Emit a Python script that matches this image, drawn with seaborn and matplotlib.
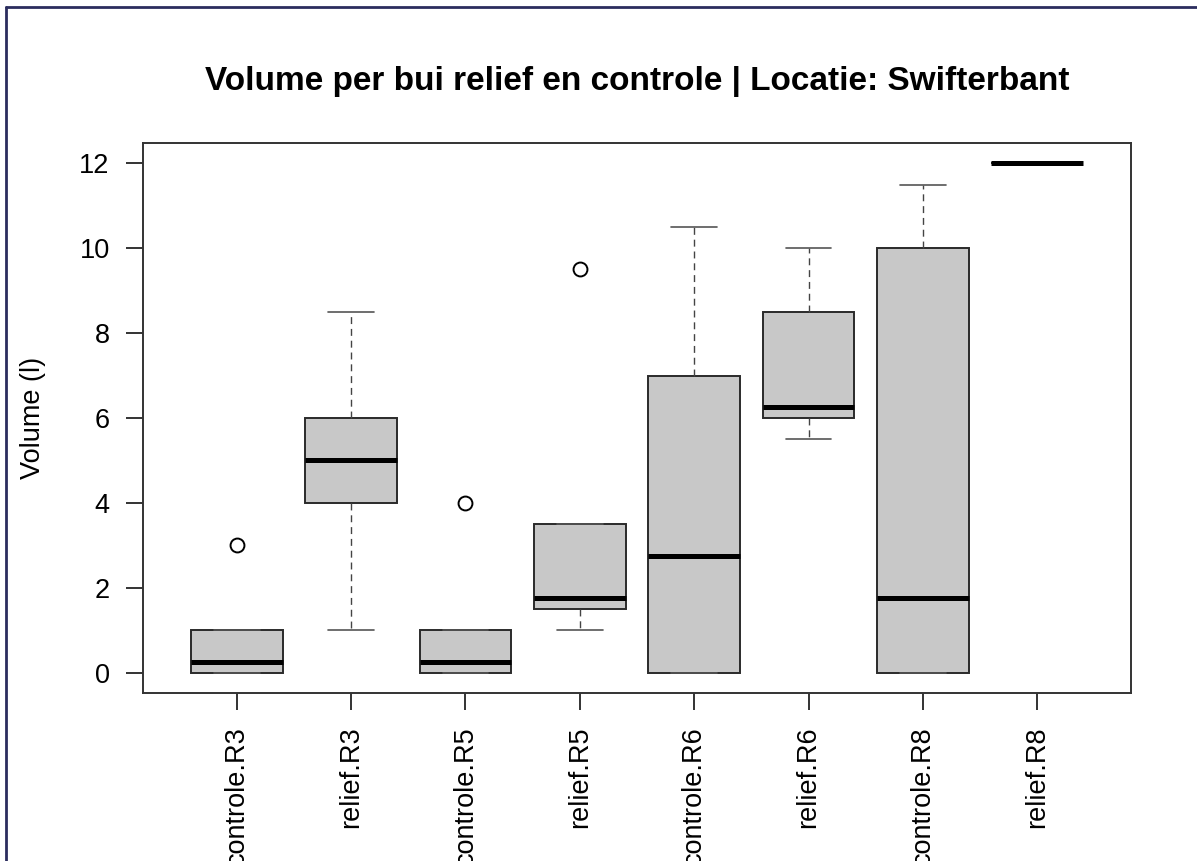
import matplotlib
matplotlib.use("Agg")
import matplotlib.pyplot as plt
from matplotlib.lines import Line2D
import seaborn as sns
import pandas as pd

# %% Data: volume per rain event (l)
groups = ['controle.R3', 'relief.R3', 'controle.R5', 'relief.R5',
          'controle.R6', 'relief.R6', 'controle.R8', 'relief.R8']

controle_r3 = [0, 0, 0, 0, 0.5, 1, 1, 3]
relief_r3 = [1, 4, 4, 5, 6, 6, 8.5]
controle_r5 = [0, 0, 0, 0, 0.5, 1, 1, 4]
relief_r5 = [1, 1.5, 1.5, 1.5, 2, 3.5, 3.5, 9.5]
controle_r6 = [0, 0, 0, 0, 5.5, 7, 7, 10.5]
relief_r6 = [5.5, 6, 6, 6, 6.5, 8.5, 8.5, 10]
controle_r8 = [0, 0, 0, 0, 3.5, 10, 10, 11.5]
relief_r8 = [12]

values = [controle_r3, relief_r3, controle_r5, relief_r5,
          controle_r6, relief_r6, controle_r8, relief_r8]

df = pd.DataFrame({'group': [g for g, v in zip(groups, values) for _ in v],
                   'volume': [x for v in values for x in v]})

# %% Plot
sns.set_theme(style='white')
plt.rcParams['font.family'] = ['Liberation Sans', 'DejaVu Sans']
plt.rcParams['text.color'] = 'black'
plt.rcParams['axes.labelcolor'] = 'black'

fig = plt.figure(figsize=(11.97, 8.61), dpi=100)
ax = fig.add_axes([143/1197, 1-693/861, (1131-143)/1197, (693-143)/861])

sns.boxplot(data=df, x='group', y='volume', order=groups, ax=ax,
            color='#c8c8c8', saturation=1, width=0.8,
            linecolor='#2a2a2a', linewidth=1.4,
            medianprops=dict(color='black', linewidth=3.6),
            whiskerprops=dict(color='#444444', linewidth=1.0, linestyle=(0, (5, 3.5))),
            capprops=dict(color='#555555', linewidth=1.2),
            flierprops=dict(marker='o', markerfacecolor='none', markeredgecolor='black',
                            markersize=10, markeredgewidth=1.4))

ax.set_xlim(-0.82, 7.82)
ax.set_ylim(-0.48, 12.48)
ax.set_yticks(range(0, 13, 2))
ax.tick_params(bottom=True, left=True, direction='out', length=12, width=1.4,
               color='#333333', labelcolor='black', labelsize=19.5, pad=12)
ax.tick_params(axis='x', labelrotation=90)
for s in ax.spines.values():
    s.set_color('#333333')
    s.set_linewidth(1.4)

ax.set_xlabel('')
ax.set_ylabel('Volume (l)', fontsize=19.5, labelpad=24)
ax.set_title('Volume per bui relief en controle | Locatie: Swifterbant',
             fontsize=24, fontweight='bold', pad=38)

# screenshot frame
fig.add_artist(Line2D([6/1197, 6/1197], [0, 1-7/861], transform=fig.transFigure,
                      color='#2b2d5e', lw=2))
fig.add_artist(Line2D([6/1197, 1], [1-7/861, 1-7/861], transform=fig.transFigure,
                      color='#2b2d5e', lw=2))

fig.savefig('out.png', dpi=100)
